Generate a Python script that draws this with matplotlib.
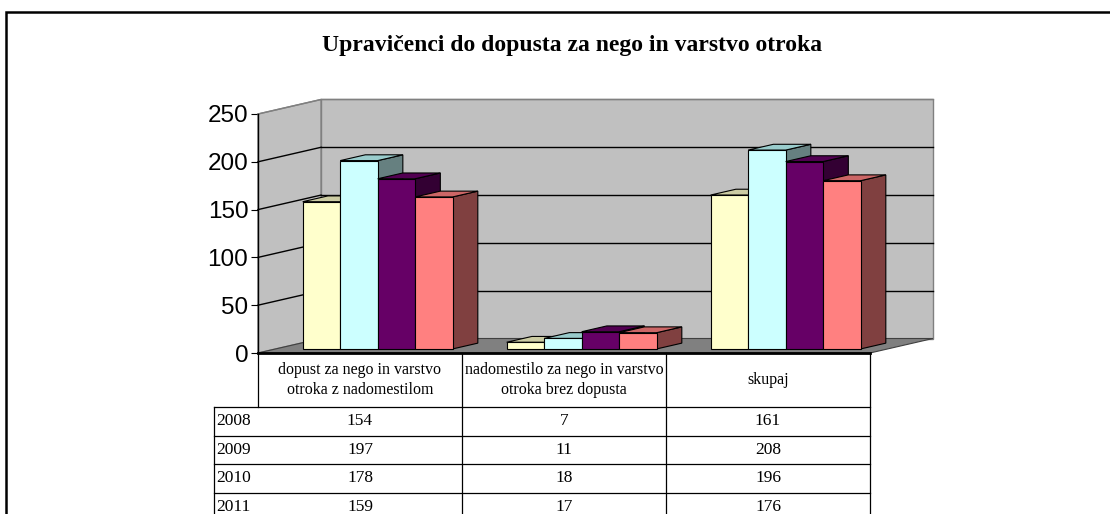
import matplotlib
matplotlib.use("Agg")
import matplotlib.pyplot as plt
from matplotlib.patches import Polygon, Rectangle

# data
categories = ["dopust za nego in varstvo\notroka z nadomestilom",
              "nadomestilo za nego in varstvo\notroka brez dopusta",
              "skupaj"]
years = ["2008", "2009", "2010", "2011"]
v2008 = [154, 7, 161]
v2009 = [197, 11, 208]
v2010 = [178, 18, 196]
v2011 = [159, 17, 176]
series = [v2008, v2009, v2010, v2011]
title = "Upravičenci do dopusta za nego in varstvo otroka"

# (front, top, side) colours per year
colors = [("#FFFFCC", "#CCCCA3", "#808066"),
          ("#CCFFFF", "#99CCCC", "#668080"),
          ("#660066", "#520052", "#330033"),
          ("#FF8080", "#CC6666", "#804040")]

W, H = 1110, 514
fig = plt.figure(figsize=(W / 100, H / 100), dpi=100)
fig.patch.set_facecolor("white")

# outer frame
fig.add_artist(Rectangle((6 / W, -0.2), 1.3, (H - 12) / H + 0.2,
                         transform=fig.transFigure, fill=False,
                         lw=1.8, ec="black"))
fig.text(572 / W, 1 - 46 / H, title, ha="center", va="center",
         family="Liberation Serif", fontweight="bold", fontsize=17)

# front plane of the plot: px x 258..870, px y 353..114
ax = fig.add_axes([258 / W, 1 - 353 / H, 612 / W, 239 / H])
ax.set_xlim(0, 3)
ax.set_ylim(0, 250)
ax.patch.set_alpha(0)
for s in ["top", "right", "bottom"]:
    ax.spines[s].set_visible(False)
ax.spines["left"].set_linewidth(1.0)
ax.spines["left"].set_zorder(10)
ax.set_xticks([])
ax.set_yticks(range(0, 251, 50))
ax.tick_params(axis="y", length=5, width=0.8, pad=2, labelsize=17.5)
for lab in ax.get_yticklabels():
    lab.set_family("Liberation Sans")

px_x = 612 / 3
px_y = 239 / 250
DX = 63 / px_x
DY = 14.5 / px_y
ymax = 250
n = len(categories)


def poly(pts, fc, ec, lw=0.8, z=1):
    ax.add_patch(Polygon(pts, closed=True, fc=fc, ec=ec, lw=lw,
                         zorder=z, clip_on=False, joinstyle="miter"))


# walls and floor
poly([(DX, DY), (n + DX, DY), (n + DX, ymax + DY), (DX, ymax + DY)],
     "#C0C0C0", "#808080", 1.0, 1)
poly([(0, 0), (DX, DY), (DX, ymax + DY), (0, ymax)], "#C0C0C0", "#808080", 1.0, 1)
for v in range(50, ymax + 1, 50):
    c = "#808080" if v == ymax else "black"
    ax.plot([DX, n + DX], [v + DY, v + DY], color=c, lw=1.0, zorder=2, clip_on=False)
    ax.plot([0, DX], [v, v + DY], color=c, lw=1.0, zorder=2, clip_on=False)
poly([(0, 0), (n, 0), (n + DX, DY), (DX, DY)], "#808080", "#404040", 0.8, 2)
ax.plot([0, n], [0, 0], color="black", lw=2.0, zorder=9, clip_on=False)

# bars
f0, fd = 0.28, 0.40
gap = 0.1325
bw = (1 - 2 * gap) / len(series)
for i in range(n):
    for j, vals in enumerate(series):
        h = vals[i]
        x0 = i + gap + j * bw + f0 * DX
        x1 = x0 + bw
        b = f0 * DY
        dx, dy = fd * DX, fd * DY
        front, top, side = colors[j]
        z = 3 + i * 10 + j
        poly([(x1, b), (x1 + dx, b + dy), (x1 + dx, b + h + dy), (x1, b + h)],
             side, "black", 0.8, z)
        poly([(x0, b + h), (x1, b + h), (x1 + dx, b + h + dy), (x0 + dx, b + h + dy)],
             top, "black", 0.8, z)
        poly([(x0, b), (x1, b), (x1, b + h), (x0, b + h)], front, "black", 0.8, z)

# data table below the plot
yc = 44 / px_x
hdr = 54 / 28.5
rows = len(years)
tb = fig.add_axes([214 / W, 1 - 521 / H, 656 / W, 168 / H])
tb.set_xlim(-yc, n)
tb.set_ylim(-(hdr + rows), 0)
tb.axis("off")
lk = dict(color="black", lw=0.9, clip_on=False)
tb.plot([0, 0], [0, -hdr], **lk)
tb.plot([-yc, -yc], [-hdr, -(hdr + rows)], **lk)
for i in range(1, n + 1):
    tb.plot([i, i], [0, -(hdr + rows)], **lk)
for r in range(rows):
    tb.plot([-yc, n], [-hdr - r, -hdr - r], **lk)

serif = "Liberation Serif"
for i, cat in enumerate(categories):
    tb.text(i + 0.5, -hdr / 2, cat, ha="center", va="center", family=serif,
            fontsize=11.5, linespacing=1.3)
for r, (yr, vals) in enumerate(zip(years, series)):
    yy = -hdr - r - 0.5
    tb.text(-yc + 0.012, yy, yr, ha="left", va="center", family=serif, fontsize=12.5)
    for i, v in enumerate(vals):
        tb.text(i + 0.5, yy, str(v), ha="center", va="center", family=serif,
                fontsize=12.5)

fig.savefig("out.png", dpi=100)
